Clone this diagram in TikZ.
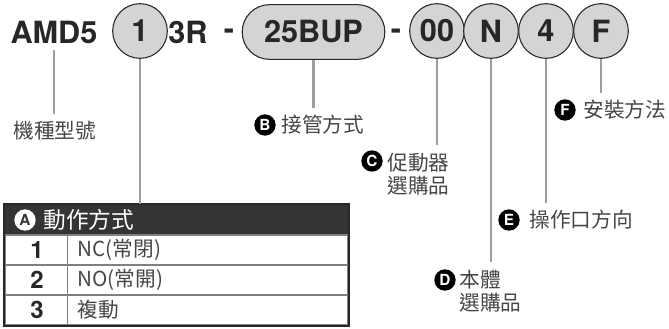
\documentclass[tikz,border=0pt]{standalone}
\usepackage{fontspec}
\setmainfont{TeX Gyre Heros}
\newfontfamily\cjk{Noto Sans CJK TC}
\usetikzlibrary{positioning}
\definecolor{mygray}{RGB}{212,212,212}
\definecolor{mylead}{RGB}{158,158,158}
\definecolor{mydark}{RGB}{40,38,38}
\definecolor{mytext}{RGB}{70,70,70}
\definecolor{myhead}{RGB}{52,52,52}

\begin{document}
\begin{tikzpicture}[x=0.75pt,y=-0.75pt,
          code/.style={font=\fontsize{23}{26}\selectfont\bfseries,text=mydark,inner sep=0pt},
          ring/.style={code,circle,draw=mydark,line width=0.8pt,fill=mygray,minimum size=41pt},
          pill/.style={code,rounded corners=20.5pt,draw=mydark,line width=0.8pt,
                       fill=mygray,minimum width=107pt,minimum height=41pt},
          lead/.style={draw=mylead,line width=2pt},
          lbl/.style={font=\cjk\fontsize{15.5}{17.5}\selectfont,text=mytext,
                      inner xsep=1pt,inner ysep=5.5pt,align=left},
          badge/.style={circle,fill=black,text=white,inner sep=0pt,minimum size=16pt,
                        font=\fontsize{11.5}{11.5}\selectfont\bfseries},
          rowbox/.style={draw=gray,line width=1.1pt,minimum width=257pt,minimum height=22.5pt,inner sep=0pt}]
        \useasboundingbox (0,0) rectangle (669,329);
        % model code
        \node[code](amd) at (54,32){AMD5};
        \node[ring](opA) at (140,31){1};
        \node[code](r3) at (188,32){3R};
        \node[code](dsh1) at (229,34){-};
        \node[pill](opB) at (313.5,32){25BUP};
        \node[code](dsh2) at (396,34){-};
        \node[ring](opC) at (437,31){00};
        \node[ring](opD) at (491,31){N};
        \node[ring](opE) at (546,31){4};
        \node[ring](opF) at (601,31){F};
        % labels
        \node[lbl](typ) at (55,131){機種型號};
        \node[lbl,anchor=west](pipe) at (280,125){接管方式};
        \node[badge](bB) at (265,125){B};
        \node[lbl,anchor=west](act) at (386,174){促動器\\選購品};
        \node[badge](bC) at (372,161){C};
        \node[lbl,anchor=west](body) at (458,291){本體\\選購品};
        \node[badge](bD) at (445,280){D};
        \node[lbl,anchor=west](port) at (528,220){操作口方向};
        \node[badge](bE) at (509,220){E};
        \node[lbl,anchor=west](mount) at (582,110){安裝方法};
        \node[badge](bF) at (565,110){F};
        % table
        \node[rowbox,fill=myhead,draw=myhead](hdr) at (176.5,220){};
        \node[badge,fill=white,text=myhead](bA) at (25,220){A};
        \node[lbl,anchor=west,text=white,font=\cjk\fontsize{17}{18}\selectfont](hdrtxt) at (42,220){動作方式};
        \foreach \n/\t [count=\i] in {1/{NC(常閉)},2/{NO(常開)},3/{複動}}{
          \node[rowbox](row\i) at (176.5,220+30*\i){};
          \node[code,font=\fontsize{18}{18}\selectfont\bfseries](num\i) at (37,220+30*\i){\n};
          \node[lbl,anchor=west](txt\i) at (76,220+30*\i){\t};
        }
        \draw[draw=gray,line width=1.1pt]([xshift=47.25pt]row1.north west)--([xshift=47.25pt]row3.south west);
        \draw[draw=mydark,line width=1.6pt](hdr.north west) rectangle (row3.south east);
        % leads
        \draw[lead]([yshift=-5pt]amd.south)--(amd.south |- typ.north);
        \draw[lead](opA.south)--(opA.south |- hdr.north);
        \draw[lead](opB.south)--(opB.south |- pipe.north);
        \draw[lead](opC.south)--(opC.south |- act.north);
        \draw[lead](opD.south)--(opD.south |- body.north);
        \draw[lead](opE.south)--(opE.south |- port.north);
        \draw[lead](opF.south)--(opF.south |- mount.north);
      \end{tikzpicture}
\end{document}
